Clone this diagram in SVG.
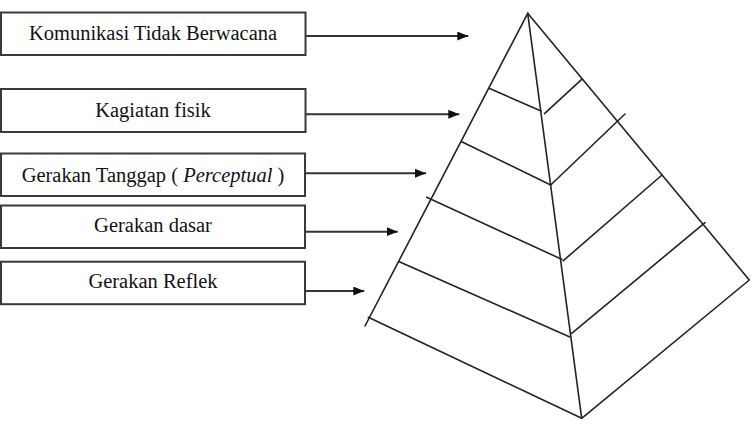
<svg xmlns="http://www.w3.org/2000/svg" width="754" height="425" viewBox="0 0 754 425">
<style>
.box{fill:#fff;stroke:#3a3a3a;stroke-width:2}
.lbl{fill:#111;text-anchor:middle}
.conn{stroke:#333;stroke-width:2;fill:none}
.pyr{stroke:#222;stroke-width:1.6;fill:none;stroke-linecap:round;stroke-linejoin:round}
</style>
<defs>
<marker id="ah" markerUnits="userSpaceOnUse" markerWidth="12" markerHeight="10" refX="11" refY="4.5" orient="auto">
<path d="M0,0 L11,4.5 L0,9 Z" fill="#111"/>
</marker>
</defs>
<rect width="754" height="425" fill="#fff"/>
<g id="nodes">
<g id="node-komunikasi">
<rect class="box" x="1" y="12.5" width="304.5" height="42.5"/>
<text class="lbl" x="153" y="40" font-family="Liberation Serif, Times New Roman, serif" font-size="20.5">Komunikasi Tidak Berwacana</text>
</g>
<g id="node-kagiatan">
<rect class="box" x="1" y="89" width="304.5" height="43"/>
<text class="lbl" x="153" y="116.7" font-family="Liberation Serif, Times New Roman, serif" font-size="20.5">Kagiatan fisik</text>
</g>
<g id="node-tanggap">
<rect class="box" x="1" y="153.5" width="304" height="42.5"/>
<text class="lbl" x="153" y="181.7" font-family="Liberation Serif, Times New Roman, serif" font-size="20.5">Gerakan Tanggap ( <tspan font-style="italic">Perceptual</tspan> )</text>
</g>
<g id="node-dasar">
<rect class="box" x="1" y="205.5" width="304" height="42.5"/>
<text class="lbl" x="153" y="231.7" font-family="Liberation Serif, Times New Roman, serif" font-size="20.5">Gerakan dasar</text>
</g>
<g id="node-reflek">
<rect class="box" x="1" y="261.7" width="304" height="42.5"/>
<text class="lbl" x="153" y="287.7" font-family="Liberation Serif, Times New Roman, serif" font-size="20.5">Gerakan Reflek</text>
</g>
</g>
<g id="pyramid">
<path class="pyr" d="M527.7,13.3 L365,326"/>
<path class="pyr" d="M527.7,13.3 L749.3,280 L581.7,418.3 L368.3,317.3"/>
<path class="pyr" d="M527.7,13.3 L581.7,418.3"/>
<path class="pyr" d="M489,88.3 L541,111 M544.5,113.7 L581.7,79.3"/>
<path class="pyr" d="M461.7,141.7 L550.7,185 L625,114"/>
<path class="pyr" d="M426.7,197.3 L561.7,259.3 M563.3,260.7 L662,175"/>
<path class="pyr" d="M399.3,261.7 L569.3,336.7 M571.7,333.3 L705,222.7"/>
</g>
<g id="connectors">
<line class="conn" x1="306" y1="36" x2="468.3" y2="36" marker-end="url(#ah)"/>
<line class="conn" x1="306" y1="114.3" x2="459.3" y2="114.3" marker-end="url(#ah)"/>
<line class="conn" x1="306" y1="173.3" x2="426" y2="173.3" marker-end="url(#ah)"/>
<line class="conn" x1="306" y1="231.7" x2="397.7" y2="231.7" marker-end="url(#ah)"/>
<line class="conn" x1="306" y1="291" x2="364.3" y2="291" marker-end="url(#ah)"/>
</g>
</svg>
